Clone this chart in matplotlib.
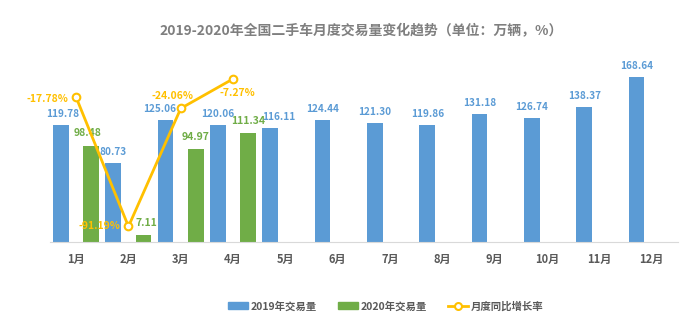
import matplotlib
matplotlib.use("Agg")
import matplotlib.pyplot as plt
from matplotlib.lines import Line2D
from matplotlib.patches import Patch

plt.rcParams['font.family'] = ['Noto Sans CJK SC', 'DejaVu Sans']

months = ["1月", "2月", "3月", "4月", "5月", "6月", "7月", "8月", "9月", "10月", "11月", "12月"]
vol_2019 = [119.78, 80.73, 125.06, 120.06, 116.11, 124.44, 121.30, 119.86, 131.18, 126.74, 138.37, 168.64]
vol_2020 = [98.48, 7.11, 94.97, 111.34]
yoy = [-17.78, -91.19, -24.06, -7.27]

blue = "#5B9BD5"
green = "#70AD47"
yellow = "#FFC000"

fig = plt.figure(figsize=(7, 3.27), dpi=100)
ax = fig.add_axes([0.0714, 0.26, 0.897, 0.538])
ax2 = ax.twinx()

x = list(range(len(months)))
x19 = [i - 0.29 for i in x]
x20 = [i + 0.29 for i in range(len(vol_2020))]

ax.bar(x19, vol_2019, width=0.3, color=blue, zorder=2)
ax.bar(x20, vol_2020, width=0.3, color=green, zorder=2)

# small horizontal nudges (points) so labels don't collide
dx19 = [1, 0, -4, 0, 6, 0, 0, 0, 0, 0, 0, 0]
for xi, v, d in zip(x19, vol_2019, dx19):
    ax.annotate(f"{v:.2f}", (xi, v), xytext=(d, 8), textcoords="offset points",
                ha="center", va="center", fontsize=7.2, color=blue, fontweight="bold")
dx20 = [-3, 2, 0, 0]
for xi, v, d in zip(x20, vol_2020, dx20):
    ax.annotate(f"{v:.2f}", (xi, v), xytext=(d, 9), textcoords="offset points",
                ha="center", va="center", fontsize=7.5, color=green, fontweight="bold")

ax.set_xlim(-0.5, 11.5)
ax.set_ylim(0, 180)
ax.set_xticks(x)
ax.set_xticklabels(months, fontsize=8, color="#595959", fontweight="bold")
ax.tick_params(axis="x", length=0, pad=8)
ax.set_yticks([])
for s in ["top", "right", "left"]:
    ax.spines[s].set_visible(False)
ax.spines["bottom"].set_color("#D9D9D9")

ax2.plot(range(len(yoy)), yoy, color=yellow, lw=2, marker="o", ms=5.5,
         mfc="white", mec=yellow, mew=1.5, zorder=3)
ax2.set_ylim(-100, 0)
ax2.set_yticks([])
for s in ["top", "right", "left", "bottom"]:
    ax2.spines[s].set_visible(False)

offsets = [(-21, -1), (-21, 0), (-6, 9), (3, -10)]
for i, (v, (dx, dy)) in enumerate(zip(yoy, offsets)):
    ax2.annotate(f"{v:.2f}%", (i, v), xytext=(dx, dy), textcoords="offset points",
                 ha="center", va="center", fontsize=7.5, color=yellow, fontweight="bold")

fig.text(0.516, 0.906, "2019-2020年全国二手车月度交易量变化趋势（单位：万辆，%）",
         ha="center", va="center", fontsize=10, color="#7F7F7F", fontweight="bold")

handles = [Patch(color=blue), Patch(color=green),
           Line2D([0], [0], color=yellow, lw=2, marker="o", ms=5, mfc="white", mec=yellow, mew=1.5)]
labels = ["2019年交易量", "2020年交易量", "月度同比增长率"]
fig.legend(handles, labels, loc="center", bbox_to_anchor=(0.551, 0.064), ncol=3, frameon=False,
           prop={"size": 7.5, "weight": "bold"}, labelcolor="#595959",
           handlelength=1.9, handleheight=0.55, columnspacing=2.0, handletextpad=0.3)

fig.savefig("out.png", dpi=100)
